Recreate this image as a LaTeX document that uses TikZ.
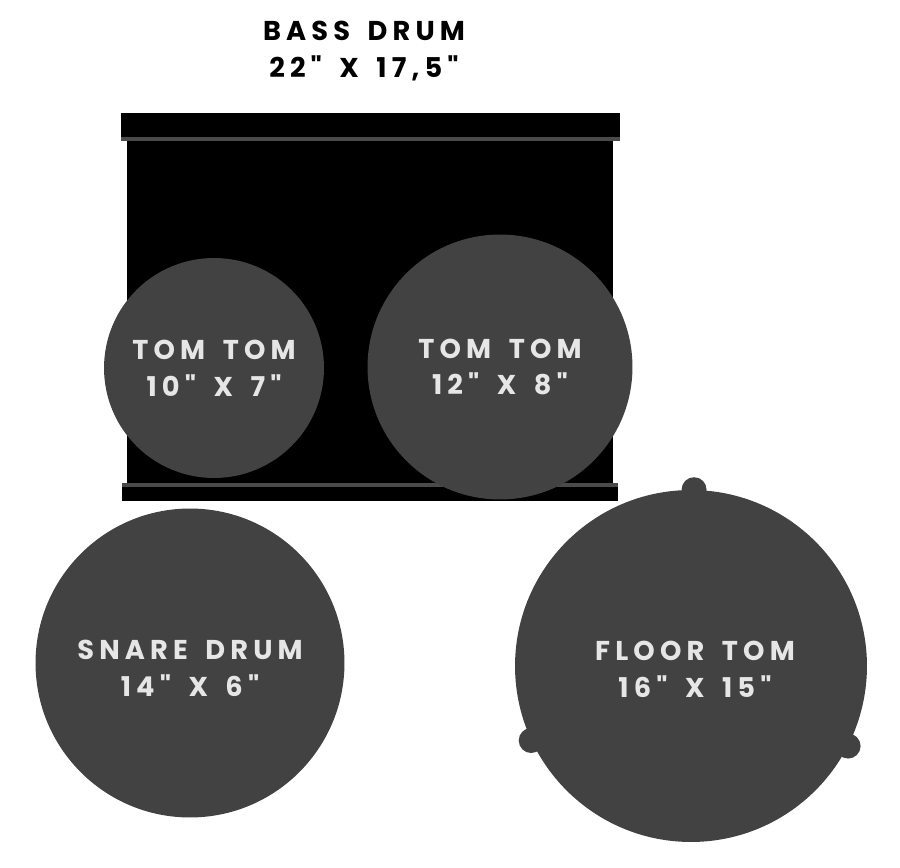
\documentclass[tikz,border=0pt]{standalone}
\usepackage{fontspec}
\newfontfamily\drumfont{Poppins}[LetterSpace=19, WordSpace=1.6]
\usetikzlibrary{positioning}
\definecolor{shell}{HTML}{424242}
\definecolor{rim}{HTML}{4A4A4A}
\definecolor{labelgray}{HTML}{E6E6E6}

\begin{document}
\begin{tikzpicture}[x=0.02cm, y=-0.02cm,
  head/.style={circle, fill=shell, inner sep=0pt, minimum size=#1},
  lug/.style={circle, fill=shell, inner sep=0pt, minimum size=0.5cm},
  lbl/.style={font=\drumfont\bfseries\fontsize{15.5}{21}\selectfont, text=labelgray, align=center}]
\useasboundingbox (0,0) rectangle (900,868);
% bass drum
\fill (121,113) rectangle (620,137);
\fill[rim] (121,137) rectangle (620,141);
\fill (127,141) rectangle (613,483);
\fill[rim] (122,483) rectangle (618,487);
\fill (122,487) rectangle (618,501);
\node[lbl, text=black] (bass) at (364,51) {BASS DRUM\\22" X 17,5"};
% toms
\node[head=4.4cm, lbl] (tomA) at (214,368) {TOM TOM\\10" X 7"};
\node[head=5.3cm, lbl] (tomB) at (500,367) {TOM TOM\\12" X 8"};
% snare
\node[head=6.18cm] (snare) at (190,663) {};
\node[lbl] (snarelbl) at (190,668) {SNARE DRUM\\14" X 6"};
% floor tom
\node[head=7.04cm] (floor) at (691,666) {};
\node[lug] (lugA) at (floor.89) {};
\node[lug] (lugB) at (floor.205) {};
\node[lug] (lugC) at (floor.-27) {};
\node[lbl] (floorlbl) at (695,669) {FLOOR TOM\\16" X 15"};
\end{tikzpicture}
\end{document}
